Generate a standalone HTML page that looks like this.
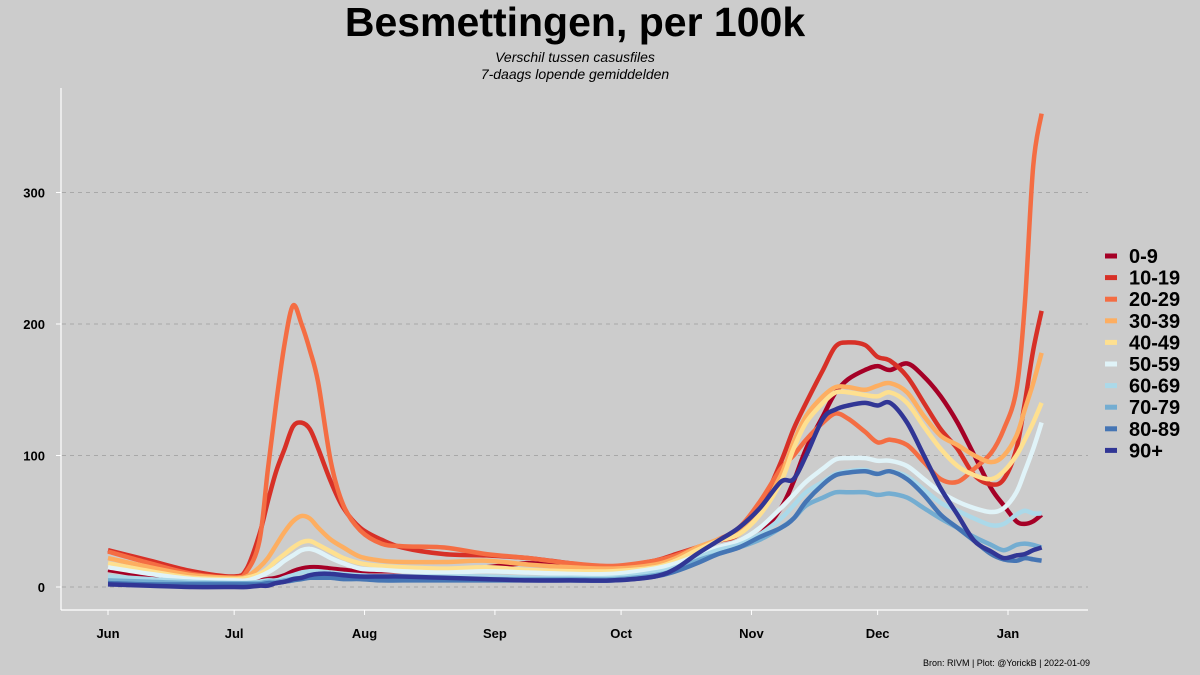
<!DOCTYPE html>
<html><head><meta charset="utf-8"><style>
body{margin:0;background:#cccccc;}
svg{display:block;font-family:"Liberation Sans",sans-serif;}
</style></head><body>
<svg id="chart" width="1200" height="675" viewBox="0 0 1200 675">
<rect x="0" y="0" width="1200" height="675" fill="#cccccc"/>
<text x="575" y="36" text-anchor="middle" font-size="41" font-weight="bold" fill="#000">Besmettingen, per 100k</text>
<text x="575" y="62" text-anchor="middle" font-size="14" font-style="italic" fill="#000">Verschil tussen casusfiles</text>
<text x="575" y="79" text-anchor="middle" font-size="14" font-style="italic" fill="#000">7-daags lopende gemiddelden</text>
<g id="grid"></g>
<g id="yaxis"></g>
<g id="xaxis"></g>
<g id="series"></g>
<g id="legend"></g>
<text x="1090" y="666" text-anchor="end" font-size="9" fill="#000">Bron: RIVM | Plot: @YorickB  |  2022-01-09</text>
</svg>
<script>
const days = [0,10,20,30,33,36,38,40,42,44,46,48,50,53,56,60,65,70,80,90,100,110,120,130,135,140,145,150,155,160,163,166,170,173,176,180,183,186,190,194,198,202,206,210,213,216,218,220,222];
const seriesNames = ["0-9","10-19","20-29","30-39","40-49","50-59","60-69","70-79","80-89","90+"];
const v0_9 = [13,8,5,4,4,5,6,7,9,12,14,15,15,14,13,12,12,12,13,15,18,15,12,15,20,25,28,30,40,60,80,105,130,148,158,165,168,165,170,160,145,125,100,75,62,50,48,50,55];
const v10_19 = [28,20,12,8,14,40,65,88,105,122,125,120,105,80,60,45,36,30,25,24,22,18,15,20,25,30,35,40,60,95,120,140,165,183,186,184,175,172,160,140,120,105,85,78,82,105,140,180,210];
const v20_29 = [27,18,10,7,12,35,89,140,185,214,200,180,155,95,62,43,33,31,30,25,22,18,16,20,24,30,36,45,65,90,100,112,125,132,128,118,110,112,108,95,82,80,90,102,120,150,215,320,360];
const v30_39 = [22,15,9,7,8,15,22,32,42,50,54,52,45,36,30,23,20,19,19,20,17,15,14,17,22,30,36,42,58,85,110,130,145,152,152,150,153,155,148,130,115,108,100,95,100,115,135,155,178];
const v40_49 = [18,12,7,6,7,10,14,20,25,30,34,35,32,27,22,18,16,15,14,15,13,12,12,15,20,28,35,40,55,80,105,125,140,148,148,146,145,148,140,122,105,92,85,82,88,100,112,125,140];
const v50_59 = [15,10,6,5,5,8,11,15,20,24,28,29,27,22,18,14,13,12,11,12,11,10,10,14,18,24,30,35,45,60,70,80,90,97,98,98,96,96,92,82,72,65,60,57,60,72,88,105,125];
const v60_69 = [8,6,4,3,3,4,5,5,7,9,11,12,12,11,10,9,8,8,8,8,7,7,7,11,15,22,28,32,40,52,62,72,80,86,88,89,86,88,84,74,64,58,52,47,48,55,58,56,56];
const v70_79 = [5,4,3,3,3,3,4,4,5,6,7,8,8,8,7,7,6,6,6,6,6,6,6,9,13,20,25,30,36,45,52,62,68,72,72,72,70,71,68,60,52,45,38,32,28,32,33,32,30];
const v80_89 = [3,2,2,2,2,2,3,3,4,5,6,7,7,7,6,6,5,5,5,5,5,5,5,8,12,18,25,30,38,45,52,65,78,85,87,88,86,88,82,70,55,45,35,25,21,20,22,21,20];
const v90p = [2,1,0,0,0,1,1,3,4,6,7,9,10,10,9,8,8,8,7,6,5,5,5,8,14,25,35,45,60,80,82,100,128,135,138,140,138,140,125,100,75,55,35,27,22,24,25,28,30];
const yTicks = [0,100,200,300];
const xTickLabels = ["Jun","Jul","Aug","Sep","Oct","Nov","Dec","Jan"];
const xTickDays = [0,30,61,92,122,153,183,214];
const colors = ["#a50026","#d73027","#f46d43","#fdae61","#fee090","#e0f3f8","#abd9e9","#74add1","#4575b4","#313695"];

const NS="http://www.w3.org/2000/svg";
const xs = d => 108 + d*(900/214);
const ys = v => 587 - v*1.315;
function mk(tag, attrs, parent){const e=document.createElementNS(NS,tag);for(const k in attrs)e.setAttribute(k,attrs[k]);parent.appendChild(e);return e;}

const grid=document.getElementById('grid'), yax=document.getElementById('yaxis'), xax=document.getElementById('xaxis');
yTicks.forEach(t=>{
  const g=mk('line',{x1:62,x2:1088,y1:ys(t),y2:ys(t),stroke:'#a8a8a8','stroke-width':1,'stroke-dasharray':'4,4'},grid);
  
  
  const tk=mk('line',{x1:56,x2:61,y1:ys(t),y2:ys(t),stroke:'#fff','stroke-width':1},yax);
  
  
  const l=mk('text',{x:45,y:ys(t)+5,'text-anchor':'end','font-size':13,'font-weight':'bold',fill:'#000'},yax);
  l.textContent=t;
  
  
});
const ya=mk('line',{x1:61,x2:61,y1:88,y2:610,stroke:'#fff','stroke-width':1.2},yax);


const xa=mk('line',{x1:61,x2:1088,y1:610,y2:610,stroke:'#fff','stroke-width':1.2},xax);


xTickLabels.forEach((lab,i)=>{
  const x=xs(xTickDays[i]);
  const tk=mk('line',{x1:x,x2:x,y1:610,y2:615,stroke:'#fff','stroke-width':1},xax);
  
  
  const l=mk('text',{x:x,y:638,'text-anchor':'middle','font-size':13,'font-weight':'bold',fill:'#000'},xax);
  l.textContent=lab;
  
  
});

function smoothPath(vals){
  const p=days.map((d,i)=>[xs(d),ys(vals[i])]);
  let s='M'+p[0][0].toFixed(1)+','+p[0][1].toFixed(1);
  for(let i=0;i<p.length-1;i++){
    const p0=p[Math.max(0,i-1)],p1=p[i],p2=p[i+1],p3=p[Math.min(p.length-1,i+2)];
    const c1=[p1[0]+(p2[0]-p0[0])/6,p1[1]+(p2[1]-p0[1])/6];
    const c2=[p2[0]-(p3[0]-p1[0])/6,p2[1]-(p3[1]-p1[1])/6];
    s+=' C'+c1[0].toFixed(1)+','+c1[1].toFixed(1)+' '+c2[0].toFixed(1)+','+c2[1].toFixed(1)+' '+p2[0].toFixed(1)+','+p2[1].toFixed(1);
  }
  return s;
}
const allVals=[v0_9,v10_19,v20_29,v30_39,v40_49,v50_59,v60_69,v70_79,v80_89,v90p];
const sg=document.getElementById('series');
allVals.forEach((vals,i)=>{
  const path=mk('path',{d:smoothPath(vals),fill:'none',stroke:colors[i],'stroke-width':4.5,'stroke-linejoin':'round','stroke-linecap':'butt'},sg);
  
  
});
const lg=document.getElementById('legend');
seriesNames.forEach((n,i)=>{
  const y=256+i*21.6;
  const sw=mk('line',{x1:1105,x2:1117,y1:y,y2:y,stroke:colors[i],'stroke-width':5},lg);
  
  
  const t=mk('text',{x:1129,y:y+7,'font-size':20,'font-weight':'bold',fill:'#000'},lg);
  t.textContent=n;
  
  
});
</script>
</body></html>
